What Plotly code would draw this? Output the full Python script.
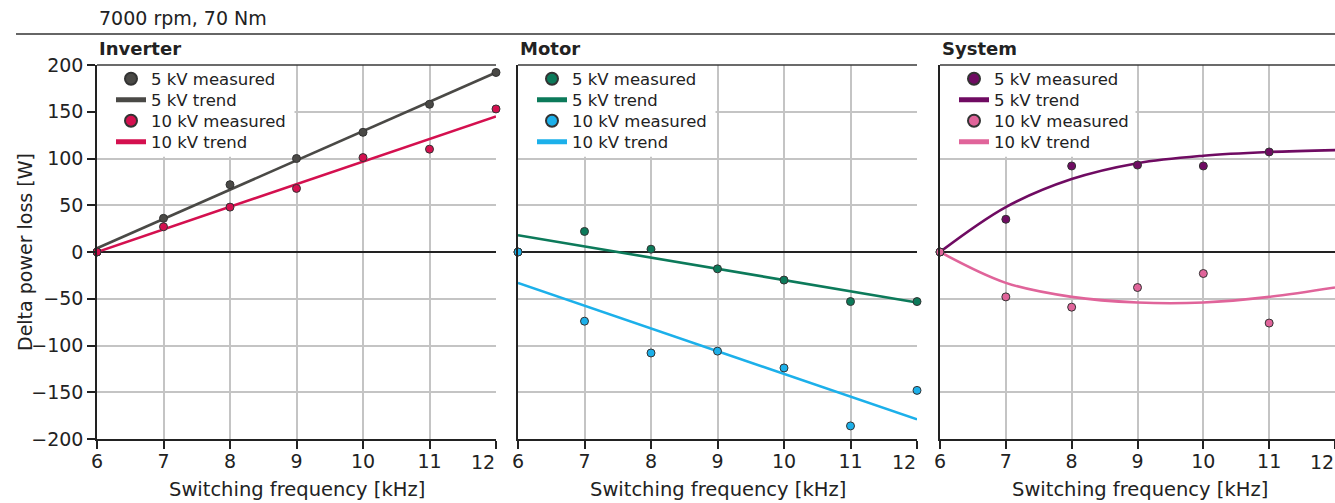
import plotly.graph_objects as go

# ---------------- data ----------------
freq = [6, 7, 8, 9, 10, 11, 12]
freq_labels = ["6", "7", "8", "9", "10", "11", ""]
last_freq_label = "12"
trend_ends = [6, 12]

inv_5_meas = [0, 36, 72, 100, 128, 158, 192]
inv_5_trend = [4, 192]
inv_10_meas = [0, 27, 48, 68, 101, 110, 153]
inv_10_trend = [0, 145]

mot_5_meas = [0, 22, 3, -18, -30, -53, -53]
mot_5_trend = [18, -54]
mot_10_meas = [0, -74, -108, -106, -124, -186, -148]
mot_10_trend = [-33, -179]

sys_freq_meas = [6, 7, 8, 9, 10, 11]
sys_5_meas = [0, 35, 92, 93, 92, 107]
sys_10_meas = [0, -48, -59, -38, -23, -76]
sys_5_trend = [0, 48, 78, 95, 103, 107, 109]
sys_10_trend = [0, -33, -48, -54, -54, -48, -38]

panel_titles = ["Inverter", "Motor", "System"]
legend_names = ["5 kV measured", "5 kV trend", "10 kV measured", "10 kV trend"]
title_text = "7000 rpm, 70 Nm"
x_title = "Switching frequency [kHz]"
y_title = "Delta power loss [W]"
y_ticks = [-200, -150, -100, -50, 0, 50, 100, 150, 200]

# ---------------- styling ----------------
W, H = 1335, 503
FONT = "DejaVu Sans"
TXT = "#222222"
GRID = "#c4c4c4"
AX = "#222222"

colors = {
    "inv": ("#4a4946", "#d4104f"),
    "mot": ("#0c7a5a", "#1cb0ea"),
    "sys": ("#6f0b62", "#e0649a"),
}

panels = [
    ("inv", freq, inv_5_meas, trend_ends, inv_5_trend, freq, inv_10_meas, trend_ends, inv_10_trend, "linear"),
    ("mot", freq, mot_5_meas, trend_ends, mot_5_trend, freq, mot_10_meas, trend_ends, mot_10_trend, "linear"),
    ("sys", sys_freq_meas, sys_5_meas, freq, sys_5_trend, sys_freq_meas, sys_10_meas, freq, sys_10_trend, "spline"),
]

x_px = [(97, 496), (518, 917), (940, 1335)]
x_ranges = [[6, 12], [6, 12], [6, 12]]
y_dom = [1 - 439 / H, 1 - 65 / H]
legend_rows_px = [79, 100, 121, 142]


def leg_name(panel, row):
    n = panel * 4 + row + 1
    return "legend" if n == 1 else "legend" + str(n)


fig = go.Figure()

for i, (key, xm5, ym5, xt5, yt5, xm10, ym10, xt10, yt10, shape) in enumerate(panels):
    c5, c10 = colors[key]
    sfx = "" if i == 0 else str(i + 1)
    xa, ya = "x" + sfx, "y" + sfx
    fig.add_trace(go.Scatter(x=xt5, y=yt5, mode="lines", name=legend_names[1],
                             line=dict(color=c5, width=2.6, shape=shape),
                             xaxis=xa, yaxis=ya, legend=leg_name(i, 1)))
    fig.add_trace(go.Scatter(x=xt10, y=yt10, mode="lines", name=legend_names[3],
                             line=dict(color=c10, width=2.6, shape=shape),
                             xaxis=xa, yaxis=ya, legend=leg_name(i, 3)))
    fig.add_trace(go.Scatter(x=xm5, y=ym5, mode="markers", name=legend_names[0], cliponaxis=False,
                             marker=dict(color=c5, size=8, line=dict(color="#333333", width=1)),
                             xaxis=xa, yaxis=ya, legend=leg_name(i, 0)))
    fig.add_trace(go.Scatter(x=xm10, y=ym10, mode="markers", name=legend_names[2], cliponaxis=False,
                             marker=dict(color=c10, size=8, line=dict(color="#333333", width=1)),
                             xaxis=xa, yaxis=ya, legend=leg_name(i, 2)))

layout = dict(
    width=W, height=H,
    margin=dict(l=0, r=0, t=0, b=0),
    paper_bgcolor="white", plot_bgcolor="white",
    font=dict(family=FONT, color=TXT, size=19),
    showlegend=True,
)

for i in range(3):
    sfx = "" if i == 0 else str(i + 1)
    x0, x1 = x_px[i]
    layout["xaxis" + sfx] = dict(
        domain=[x0 / W, x1 / W], range=x_ranges[i], anchor="y" + sfx,
        tickvals=freq, ticktext=freq_labels, showgrid=True, gridcolor=GRID, gridwidth=1.5,
        showline=True, linecolor=AX, linewidth=1.5, zeroline=False,
        ticks="outside", ticklen=8, tickwidth=1.5, tickcolor=AX,
        tickfont=dict(size=19, color=TXT, family=FONT), automargin=False,
        ticklabelstandoff=-4,
    )
    layout["yaxis" + sfx] = dict(
        domain=y_dom, range=[-200, 200], anchor="x" + sfx,
        tickvals=y_ticks, showgrid=True, gridcolor=GRID, gridwidth=1.5,
        showline=True, linecolor=AX, linewidth=1.5,
        zeroline=True, zerolinecolor=AX, zerolinewidth=1.5,
        ticks="outside" if i == 0 else "", ticklen=8, tickwidth=1.5, tickcolor=AX,
        showticklabels=(i == 0), tickfont=dict(size=19, color=TXT, family=FONT),
        automargin=False,
    )
    for r in range(4):
        layout[leg_name(i, r)] = dict(
            x=(x0 + 14) / W, y=1 - legend_rows_px[r] / H, xanchor="left", yanchor="middle",
            bgcolor="rgba(0,0,0,0)", borderwidth=0, itemsizing="constant",
            font=dict(size=16.5, color=TXT, family=FONT),
        )

fig.update_layout(**layout)

shapes = []
annotations = []
for i in range(3):
    sfx = "" if i == 0 else str(i + 1)
    x0, x1 = x_px[i]
    # white box behind legend (hides grid)
    shapes.append(dict(type="rect", xref="x" + sfx, yref="y" + sfx, x0=6, x1=8.97, y0=102, y1=200,
                       fillcolor="white", line=dict(width=0), layer="between"))
    # top frame line
    shapes.append(dict(type="line", xref="x" + sfx + " domain", yref="y" + sfx + " domain",
                       x0=0, x1=1, y0=1, y1=1, line=dict(color="#3a3a3a", width=1.5)))
    annotations.append(dict(text="<b>" + panel_titles[i] + "</b>", xref="paper", yref="paper",
                            x=x0 / W, y=1 - 48 / H, xanchor="left", yanchor="middle",
                            showarrow=False, font=dict(size=18, color=TXT, family=FONT)))
    cx = (x0 + (1339 if i == 2 else x1)) / 2
    annotations.append(dict(text=x_title, xref="paper", yref="paper",
                            x=cx / W, y=1 - 489 / H, xanchor="center", yanchor="middle",
                            showarrow=False, font=dict(size=19.5, color=TXT, family=FONT)))
    # last tick label, right-aligned at its tick (as in the original)
    annotations.append(dict(text=last_freq_label, xref="x" + sfx, yref="paper",
                            x=freq[-1], y=1 - 462 / H, xanchor="right", yanchor="middle",
                            showarrow=False, xshift=1, font=dict(size=19, color=TXT, family=FONT)))

shapes.append(dict(type="line", xref="paper", yref="paper", x0=16 / W, x1=1, y0=1 - 34 / H, y1=1 - 34 / H,
                   line=dict(color="#333333", width=1.5)))
annotations.append(dict(text=title_text, xref="paper", yref="paper", x=97 / W, y=1 - 18 / H,
                        xanchor="left", yanchor="middle", showarrow=False,
                        font=dict(size=19, color=TXT, family=FONT)))
annotations.append(dict(text=y_title, xref="paper", yref="paper", x=25 / W, y=1 - 252 / H,
                        xanchor="center", yanchor="middle", textangle=-90, showarrow=False,
                        font=dict(size=19, color=TXT, family=FONT)))

fig.update_layout(shapes=shapes, annotations=annotations)
fig.write_html("out.html")
